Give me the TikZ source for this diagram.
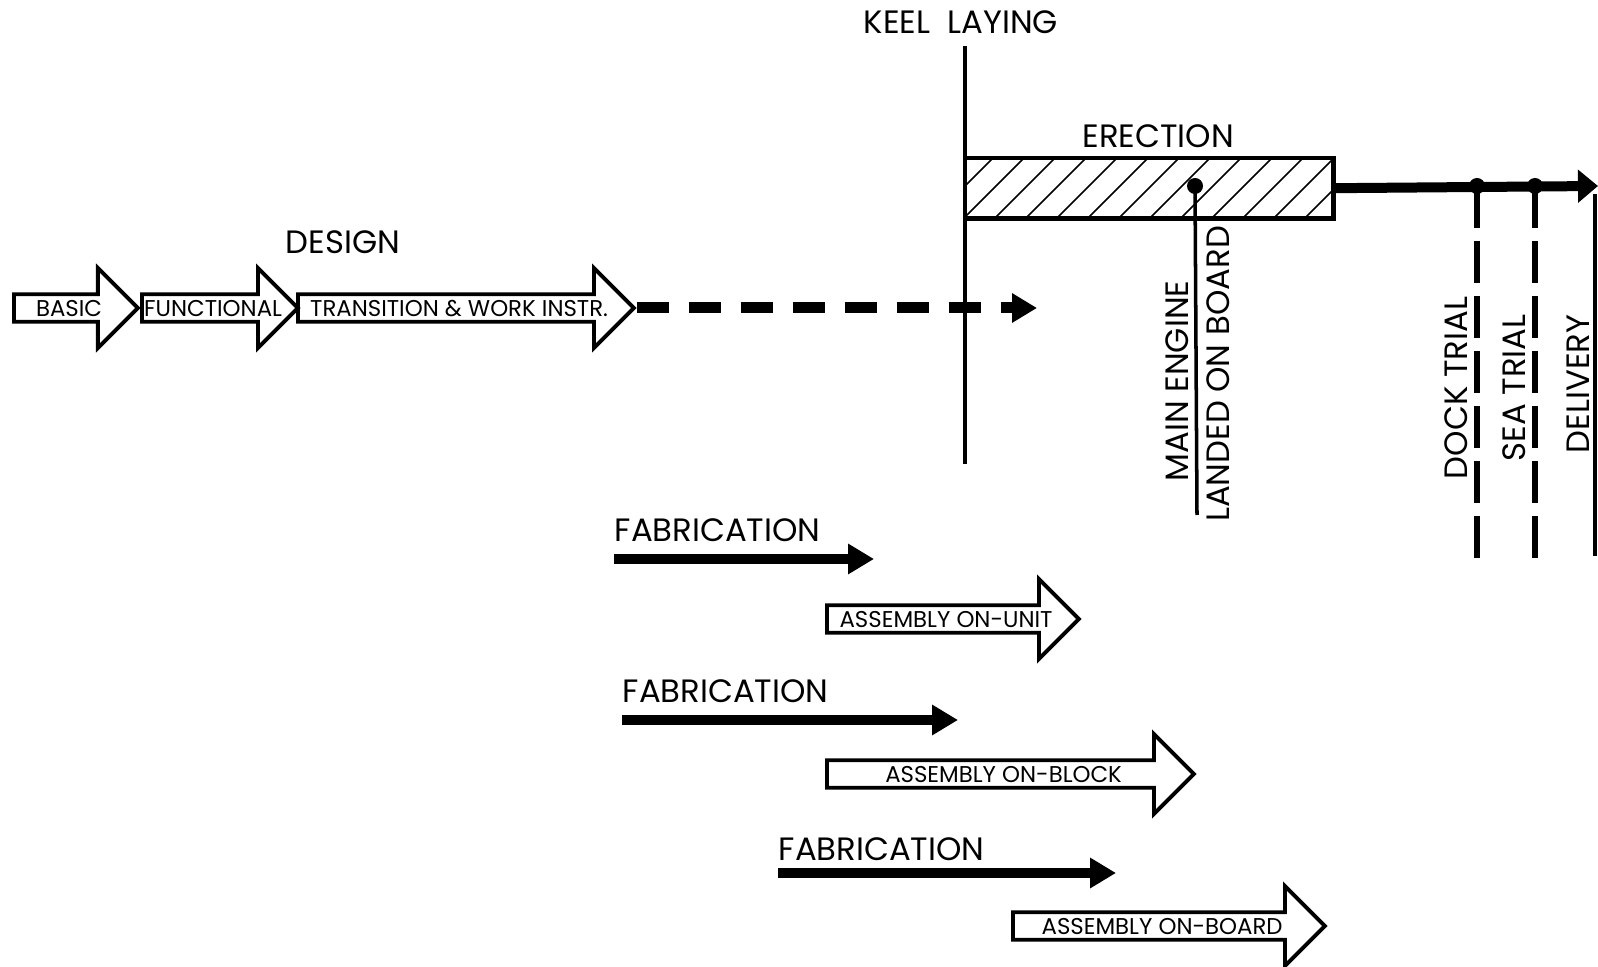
\documentclass[tikz,border=0pt]{standalone}
\usepackage{fontspec}
\setmainfont{Poppins}
\usetikzlibrary{shapes.arrows,arrows.meta,positioning}

\tikzset{
  lbl/.style={font=\fontsize{9.2}{11}\selectfont,inner sep=0pt},
  event/.style={lbl,rotate=90},
  blockarr/.style={single arrow,draw,line width=1.1pt,anchor=tail,
    single arrow head extend=2mm,single arrow tip angle=90,
    minimum width=8mm,inner sep=0pt,text height=1.7mm,text depth=0pt,
    font=\fontsize{6.5}{8}\selectfont},
  thickarr/.style={line width=1mm,-{Triangle[length=2.6mm,width=2.9mm]}},
  trial/.style={line width=1.6pt,dash pattern=on 4.2mm off 1.3mm},
}

\begin{document}
\begin{tikzpicture}[x=0.1mm,y=-0.1mm]
\useasboundingbox (0,0) rectangle (1598,967);

% design
\node[lbl] (design) at (343,242) {DESIGN};
\foreach \t/\x/\l [count=\n] in {BASIC/12/12.4,FUNCTIONAL/140/15.6,TRANSITION \& WORK INSTR./296/33.6}
  \node[blockarr,minimum height=\l mm] (D\n) at (\x,308) {\t};
\coordinate (designend) at (1037,308);
\draw[line width=1.1mm,dash pattern=on 3.2mm off 2mm,-{Triangle[length=2.5mm,width=2.8mm]}] (D3.tip) -- (designend);

% keel laying
\coordinate (keeltop) at (965,46);
\coordinate (keelbot) at (965,464);
\node[lbl] (keel) at (961,22) {KEEL\ \ LAYING};
\draw[line width=1pt] (keeltop) -- (keelbot);

% erection
\node[minimum width=36.7mm,minimum height=5.9mm,anchor=north west,inner sep=0pt] (bar) at (965,158) {};
\begin{scope}
  \clip (bar.south west) rectangle (bar.north east);
  \foreach \k in {-2,...,12}
    \draw[line width=0.45pt] (965+\k*31,217) -- ++(59,-59);
\end{scope}
\draw[line width=1.4pt] (bar.south west) rectangle (bar.north east);
\node[lbl,above=1mm of bar,xshift=0.9mm] (erection) {ERECTION};
\coordinate (lineend) at (1598,186);
\draw[line width=1mm,-{Triangle[length=2mm,width=3.2mm]}] (bar.east) -- (lineend);

% main engine
\coordinate (me) at (1195,186);
\coordinate (meend) at (1197,515);
\draw[line width=1pt] (me) -- (meend);
\fill (me) circle[radius=0.8mm];
\node[event] (mainengine) at (1177,381) {MAIN ENGINE};
\node[event] (landed) at (1218,374) {LANDED ON BOARD};

% trials
\foreach \x/\t [count=\n] in {1477/DOCK TRIAL,1535/SEA TRIAL}{
  \coordinate (T\n) at (\x,186);
  \coordinate (T\n b) at (\x,566);
  \draw[trial] (T\n) -- (T\n b);
  \fill (T\n) circle[radius=0.8mm];
  \node[event] (TL\n) at (\x-21,388) {\t};
}
\coordinate (deltop) at (1595,194);
\coordinate (delbot) at (1595,556);
\draw[line width=1pt] (deltop) -- (delbot);
\node[event] (delivery) at (1578,384) {DELIVERY};

% fabrication and assembly
\foreach \x/\ty/\y/\e [count=\n] in {614/530/559/874,622/691/720/958,778/849/873/1116}{
  \node[lbl,anchor=west] (F\n) at (\x,\ty) {FABRICATION};
  \coordinate (F\n a) at (\x,\y);
  \coordinate (F\n b) at (\e,\y);
  \draw[thickarr] (F\n a) -- (F\n b);
}
\foreach \t/\x/\y/\l [count=\n] in {ASSEMBLY ON-UNIT/825/619/25.2,ASSEMBLY ON-BLOCK/825/774/36.7,ASSEMBLY ON-BOARD/1011/926/31.2}
  \node[blockarr,minimum height=\l mm] (A\n) at (\x,\y) {\t};
\end{tikzpicture}
\end{document}
